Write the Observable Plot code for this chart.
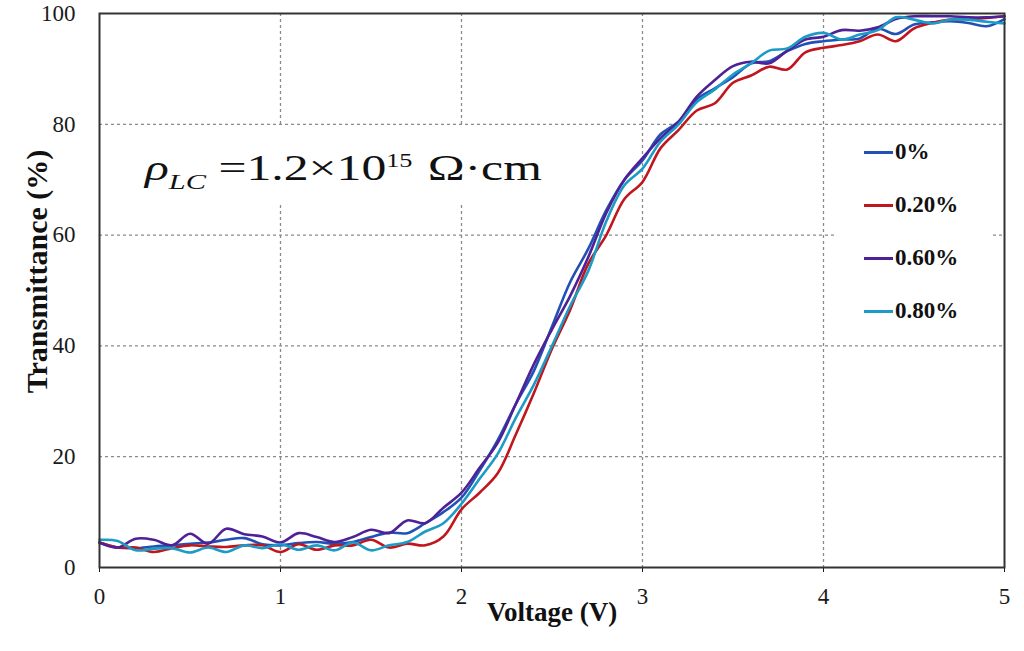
<!DOCTYPE html>
<html>
<head>
<meta charset="utf-8">
<script src="https://cdn.jsdelivr.net/npm/d3@7"></script>
<script src="https://cdn.jsdelivr.net/npm/@observablehq/plot@0.6"></script>
<style>
  body { margin: 0; background: white; }
  #wrap { position: relative; width: 1024px; height: 651px; font-family: 'Liberation Serif', serif; }
  #wrap svg, #wrap svg text { font-family: 'Liberation Serif', serif !important; }
  #anno { position: absolute; left: 130px; top: 127px; width: 430px; height: 78px; background: white; }
  #anno .eq { position: absolute; left: 15px; top: 23px; line-height: 36px; font-size: 36px; color: #111;
              white-space: nowrap; transform: scaleX(1.38); transform-origin: 0 0;
              font-family: 'Liberation Serif', serif; }
  #anno i { font-style: italic; }
  #anno sub { font-size: 22px; vertical-align: -9px; font-style: italic; margin-right: 9px; line-height: 0; }
  #anno sup { font-size: 19px; vertical-align: 13px; margin-right: 11px; line-height: 0; }
  #legend { position: absolute; left: 836px; top: 126px; width: 154px; height: 210px; background: white; }
  .item { position: absolute; left: 0; height: 30px; display: flex; align-items: center;
          font-family: 'Liberation Serif', serif; font-weight: bold; font-size: 23px; color: #111; }
  .sw { width: 29px; height: 3px; margin-left: 28px; margin-right: 2px; }
</style>
</head>
<body>
<div id="wrap"></div>
<script>
const voltage = d3.range(0, 51).map(i => +(i * 0.1).toFixed(1));
const seriesNames = ["0%", "0.20%", "0.60%", "0.80%"];
const seriesColors = ["#2251B5", "#C0161E", "#4E2196", "#1B9BC5"];
const xTicks = [0, 1, 2, 3, 4, 5];
const yTicks = [0, 20, 40, 60, 80, 100];

const t0 = [4.5,3.6,3.5,3.8,4.0,4.3,4.5,5.0,5.3,4.2,4.0,4.4,4.6,4.3,4.6,5.5,6.3,6.2,8.0,10.0,
            12.6,17.5,23.0,29.5,35.5,43.5,51.5,57.5,64.5,70.0,73.5,78.2,80.5,84.5,86.5,88.5,91.0,91.4,93.2,94.5,
            95.0,95.3,95.5,97.3,96.3,98.0,98.4,98.6,98.3,97.7,99.0];
const t020 = [4.5,3.6,3.6,2.8,3.5,4.0,3.8,3.7,4.0,4.0,2.8,4.2,3.2,4.0,4.0,5.0,3.6,4.3,4.0,5.6,
              10.5,13.5,17.0,24.0,31.5,39.5,46.5,54.8,60.0,66.5,69.6,75.7,79.0,82.5,83.8,87.5,88.8,90.4,89.9,93.0,
              93.8,94.3,95.0,96.2,95.0,97.3,98.3,98.9,99.0,99.2,99.5];
const t060 = [4.5,3.6,5.2,5.0,4.0,6.1,4.3,7.0,6.0,5.6,4.5,6.2,5.5,4.6,5.5,6.8,6.2,8.5,8.0,10.8,
              13.5,18.0,22.5,29.5,36.7,43.0,49.0,56.0,64.0,70.0,73.9,77.5,80.5,85.0,88.0,90.5,91.3,91.0,93.3,95.3,
              95.8,97.0,96.9,97.5,99.0,99.5,99.5,99.5,99.3,99.3,99.5];
const t080 = [5.0,4.8,3.1,3.4,3.5,2.7,3.6,2.8,4.0,3.5,4.2,3.2,4.0,3.1,4.5,3.1,4.0,4.6,6.5,8.0,
              11.5,16.0,20.5,27.0,33.0,40.0,47.2,53.5,62.5,69.0,72.0,76.9,80.0,84.0,86.3,89.0,91.0,93.3,93.7,95.8,
              96.5,95.3,96.2,97.0,99.3,98.9,98.2,98.9,98.9,98.5,98.2];

const seriesValues = [t0, t020, t060, t080];
const data = [];
seriesNames.forEach((name, k) => {
  voltage.forEach((v, i) => data.push({series: name, v, t: seriesValues[k][i]}));
});

const serif = "Liberation Serif, serif";

const chart = Plot.plot({
  width: 1024,
  height: 651,
  marginLeft: 99,
  marginRight: 20,
  marginTop: 13,
  marginBottom: 84,
  style: {fontFamily: serif, fontSize: "23px", color: "#1a1a1a", background: "white"},
  x: {domain: [0, 5], ticks: xTicks, tickFormat: "d", tickSize: 5, tickPadding: 15, label: null},
  y: {domain: [0, 100], ticks: yTicks, tickFormat: "d", tickSize: 0, tickPadding: 24, label: null},
  color: {domain: seriesNames, range: seriesColors},
  marks: [
    Plot.gridX(xTicks.slice(1, -1), {stroke: "#8a8a8a", strokeOpacity: 1, strokeWidth: 1.3, strokeDasharray: "3,3"}),
    Plot.gridY(yTicks.slice(1, -1), {stroke: "#8a8a8a", strokeOpacity: 1, strokeWidth: 1.3, strokeDasharray: "3,3"}),
    Plot.line(data, {x: "v", y: "t", z: "series", stroke: "series", strokeWidth: 2.6, curve: "catmull-rom"}),
    Plot.frame({stroke: "#333", strokeWidth: 2}),
    Plot.text(["Voltage (V)"], {frameAnchor: "bottom", dy: 53, fontWeight: "bold", fontSize: 27, fill: "#111"}),
    Plot.text(["Transmittance (%)"], {frameAnchor: "left", textAnchor: "middle", lineAnchor: "middle",
      dx: -62, dy: -19, rotate: -90, fontWeight: "bold", fontSize: 30, fill: "#111"})
  ]
});

const wrap = document.getElementById("wrap");
wrap.appendChild(chart);

const anno = document.createElement("div");
anno.id = "anno";
anno.innerHTML = '<span class="eq"><i>ρ</i><sub>LC</sub>=1.2×10<sup>15</sup>Ω·cm</span>';
wrap.appendChild(anno);

const legend = document.createElement("div");
legend.id = "legend";
seriesNames.forEach((name, i) => {
  const item = document.createElement("div");
  item.className = "item";
  item.style.top = (11 + i * 53) + "px";
  const sw = document.createElement("span");
  sw.className = "sw";
  sw.style.background = seriesColors[i];
  const lab = document.createElement("span");
  lab.textContent = name;
  item.appendChild(sw);
  item.appendChild(lab);
  legend.appendChild(item);
});
wrap.appendChild(legend);
</script>
</body>
</html>
